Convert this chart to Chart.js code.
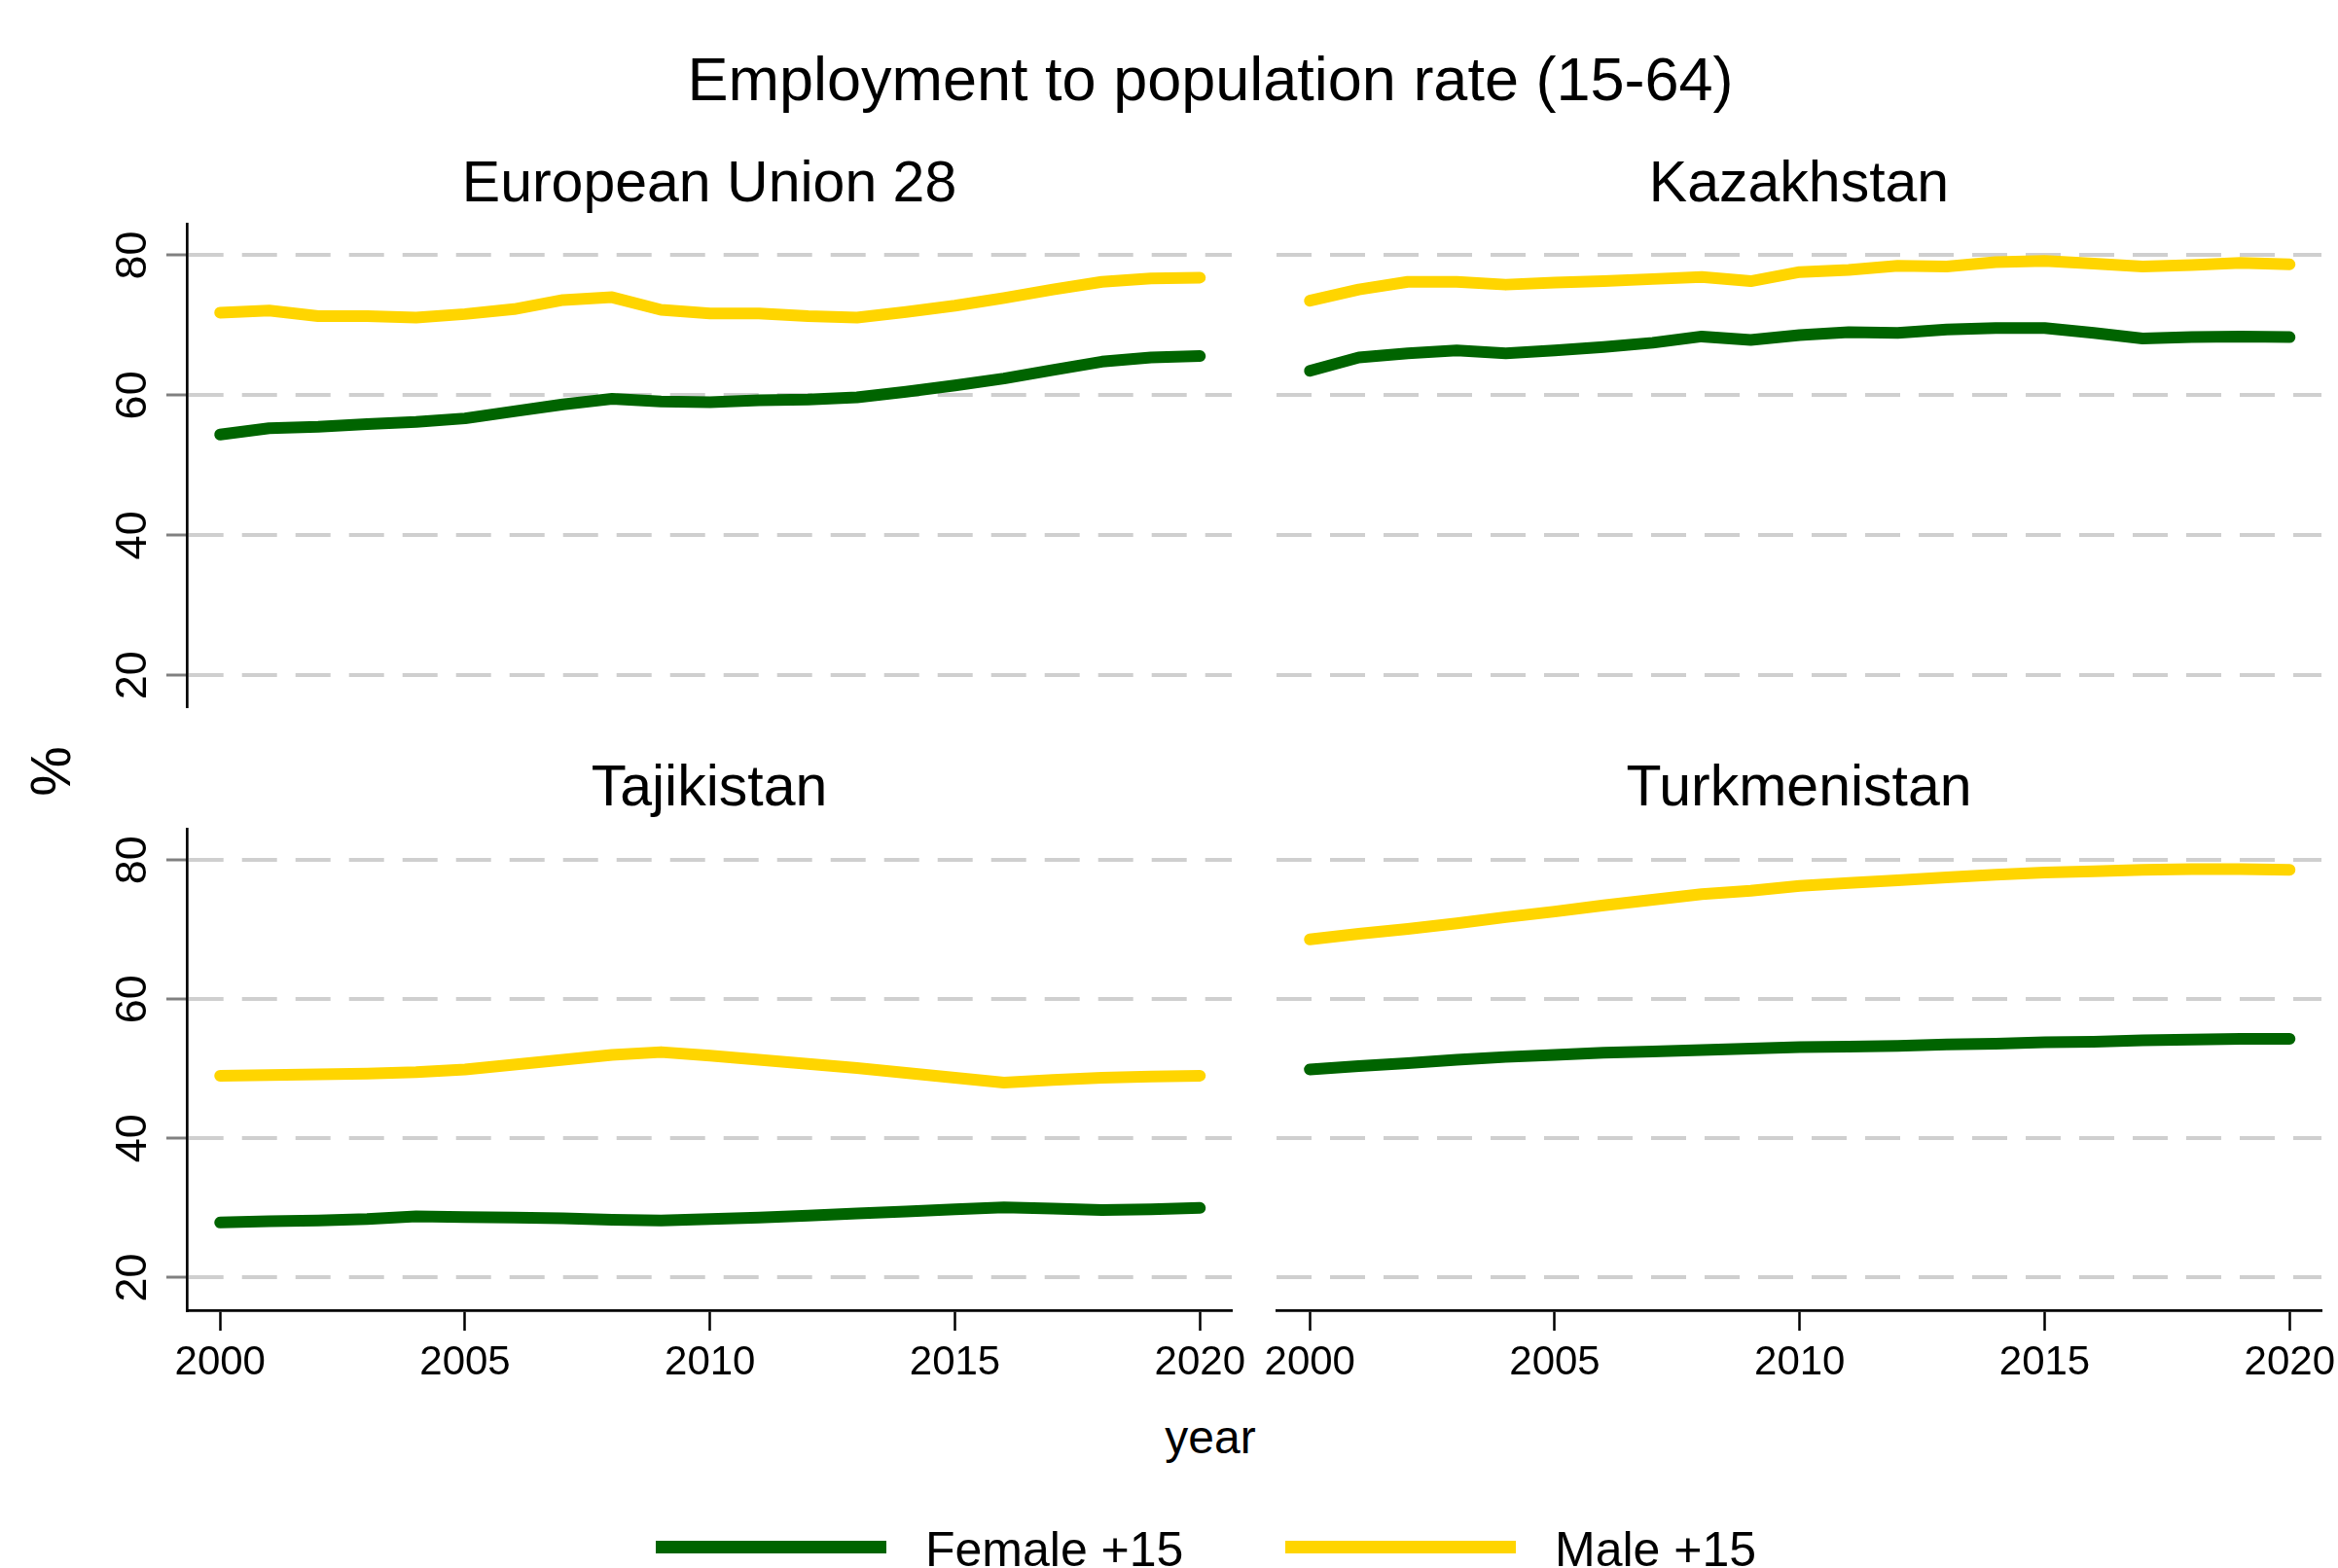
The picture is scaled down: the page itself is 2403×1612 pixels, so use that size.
<!DOCTYPE html>
<html>
<head>
<meta charset="utf-8">
<script src="https://cdn.jsdelivr.net/npm/chart.js@4.4.1/dist/chart.umd.min.js"></script>
<style>
  html, body { margin: 0; padding: 0; background: #fff; overflow: hidden; }
  body { width: 2403px; height: 1612px; position: relative; font-family: "Liberation Sans", Arial, Helvetica, sans-serif; color: #000; }
  canvas { position: absolute; }
  .txt { position: absolute; line-height: 1; white-space: nowrap; transform: translate(-50%, -50%); }
  .leg { position: absolute; height: 13px; }
  .legtxt { position: absolute; line-height: 1; white-space: nowrap; font-size: 50px; transform: translateY(-50%); }
</style>
</head>
<body>
<div class="txt" style="left:1244px; top:81px; font-size:63px;">Employment to population rate (15-64)</div>
<div class="txt" id="t0" style="left:729px; top:187px; font-size:59px;"></div>
<div class="txt" id="t1" style="left:1849px; top:187px; font-size:59px;"></div>
<div class="txt" id="t2" style="left:729px; top:808px; font-size:59px;"></div>
<div class="txt" id="t3" style="left:1849px; top:808px; font-size:59px;"></div>
<div class="txt" style="left:52px; top:793px; font-size:58px; transform: translate(-50%, -50%) rotate(-90deg);">%</div>
<div class="txt" style="left:1244px; top:1478px; font-size:48px;">year</div>

<div class="leg" style="left:674px; top:1584px; width:237px; background:#006400;"></div>
<div class="legtxt" style="left:951px; top:1593px;">Female +15</div>
<div class="leg" style="left:1321px; top:1584px; width:237px; background:#FFD500;"></div>
<div class="legtxt" style="left:1598px; top:1593px;">Male +15</div>

<canvas id="c0"></canvas>
<canvas id="c1"></canvas>
<canvas id="c2"></canvas>
<canvas id="c3"></canvas>

<script>
// values, one per year
const years = [2000, 2001, 2002, 2003, 2004, 2005, 2006, 2007, 2008, 2009, 2010,
               2011, 2012, 2013, 2014, 2015, 2016, 2017, 2018, 2019, 2020];

const euFemale = [54.4, 55.3, 55.5, 55.9, 56.2, 56.7, 57.7, 58.7, 59.5, 59.1, 59.0,
                  59.3, 59.4, 59.7, 60.5, 61.4, 62.4, 63.6, 64.8, 65.4, 65.6];
const euMale   = [71.8, 72.1, 71.3, 71.3, 71.1, 71.6, 72.3, 73.6, 74.0, 72.2, 71.7,
                  71.7, 71.3, 71.1, 71.9, 72.8, 73.9, 75.1, 76.2, 76.7, 76.8];

const kzFemale = [63.5, 65.4, 66.0, 66.4, 66.0, 66.4, 66.9, 67.5, 68.4, 67.9, 68.6,
                  69.0, 68.9, 69.4, 69.6, 69.6, 68.9, 68.1, 68.3, 68.4, 68.3];
const kzMale   = [73.5, 75.1, 76.2, 76.2, 75.8, 76.1, 76.3, 76.6, 76.9, 76.3, 77.6,
                  77.9, 78.5, 78.4, 79.0, 79.2, 78.8, 78.4, 78.6, 78.9, 78.7];

const tjFemale = [27.9, 28.1, 28.2, 28.4, 28.8, 28.7, 28.6, 28.5, 28.3, 28.2, 28.4,
                  28.6, 28.9, 29.2, 29.5, 29.8, 30.1, 29.9, 29.7, 29.8, 30.0];
const tjMale   = [49.0, 49.1, 49.2, 49.3, 49.5, 49.9, 50.6, 51.3, 52.0, 52.4, 51.9,
                  51.3, 50.7, 50.1, 49.4, 48.7, 48.0, 48.4, 48.7, 48.9, 49.0];

const tmFemale = [49.9, 50.4, 50.8, 51.3, 51.7, 52.0, 52.3, 52.5, 52.7, 52.9, 53.1,
                  53.2, 53.3, 53.5, 53.6, 53.8, 53.9, 54.1, 54.2, 54.3, 54.3];
const tmMale   = [68.6, 69.4, 70.1, 70.9, 71.8, 72.6, 73.5, 74.3, 75.1, 75.6, 76.3,
                  76.7, 77.1, 77.5, 77.9, 78.2, 78.4, 78.6, 78.7, 78.7, 78.6];

const xTicks = [2000, 2005, 2010, 2015, 2020];
const yTicks = [20, 40, 60, 80];
const panelNames = ['European Union 28', 'Kazakhstan', 'Tajikistan', 'Turkmenistan'];

const green = '#006400';
const yellow = '#FFD500';
const font = '"Liberation Sans", Arial, Helvetica, sans-serif';

const toPoints = arr => years.map((yr, i) => ({ x: yr, y: arr[i] }));

// panel layout: canvas box + which axes show
// chart areas: left col x 192-1266, right col 1312-2386, top row y 230-726, bottom row 852-1347
const panels = [
  { id: 'c0', female: euFemale, male: euMale, left: 0,    top: 222, width: 1296, height: 512, showY: true,  showX: false, yMin: 15.6 },
  { id: 'c1', female: kzFemale, male: kzMale, left: 1282, top: 222, width: 1134, height: 512, showY: false, showX: false, yMin: 15.6 },
  { id: 'c2', female: tjFemale, male: tjMale, left: 0,    top: 844, width: 1296, height: 593, showY: true,  showX: true,  yMin: 15.3 },
  { id: 'c3', female: tmFemale, male: tmMale, left: 1282, top: 844, width: 1134, height: 593, showY: false, showX: true,  yMin: 15.3 }
];

panelNames.forEach((n, i) => { document.getElementById('t' + i).textContent = n; });

panels.forEach(p => {
  const cv = document.getElementById(p.id);
  cv.width = p.width;
  cv.height = p.height;
  cv.style.left = p.left + 'px';
  cv.style.top = p.top + 'px';

  const line = (label, arr, color) => ({
    label: label,
    data: toPoints(arr),
    borderColor: color,
    borderWidth: 12,
    borderCapStyle: 'round',
    borderJoinStyle: 'round',
    pointRadius: 0,
    tension: 0,
    fill: false
  });

  new Chart(cv.getContext('2d'), {
    type: 'line',
    data: {
      datasets: [
        line('Female +15', p.female, green),
        line('Male +15', p.male, yellow)
      ]
    },
    options: {
      responsive: false,
      animation: false,
      devicePixelRatio: 1,
      layout: {
        padding: { left: p.showY ? 0 : 30, right: 30, top: 8, bottom: p.showX ? 0 : 8 }
      },
      plugins: {
        legend: { display: false },
        tooltip: { enabled: false }
      },
      scales: {
        x: {
          type: 'linear',
          display: p.showX,
          min: 1999.32,
          max: 2020.65,
          afterBuildTicks: s => { s.ticks = xTicks.map(v => ({ value: v })); },
          afterFit: s => {
            s.height = p.showX ? 90 : 0;
            s.paddingLeft = 0;
            s.paddingRight = 0;
          },
          grid: {
            drawOnChartArea: false,
            drawTicks: true,
            tickLength: 21,
            tickWidth: 2.5,
            tickColor: '#000'
          },
          border: { display: true, color: '#000', width: 2.7 },
          ticks: {
            autoSkip: false,
            maxRotation: 0,
            padding: 8,
            color: '#000',
            font: { family: font, size: 42 },
            callback: v => String(v)
          }
        },
        y: {
          type: 'linear',
          min: p.yMin,
          max: 84.5,
          afterBuildTicks: s => { s.ticks = yTicks.map(v => ({ value: v })); },
          afterFit: s => {
            s.width = p.showY ? 192 : 0;
            s.paddingTop = 0;
            s.paddingBottom = 0;
          },
          grid: {
            color: '#cfcfcf',
            lineWidth: 4,
            drawTicks: p.showY,
            tickLength: 21,
            tickWidth: 3,
            tickColor: '#808080'
          },
          border: { display: p.showY, color: '#000', width: 2.7, dash: [36, 19] },
          ticks: {
            display: p.showY,
            minRotation: 90,
            maxRotation: 90,
            crossAlign: 'center',
            padding: 8,
            color: '#000',
            font: { family: font, size: 45 },
            callback: v => String(v)
          }
        }
      }
    }
  });
});
</script>
</body>
</html>
